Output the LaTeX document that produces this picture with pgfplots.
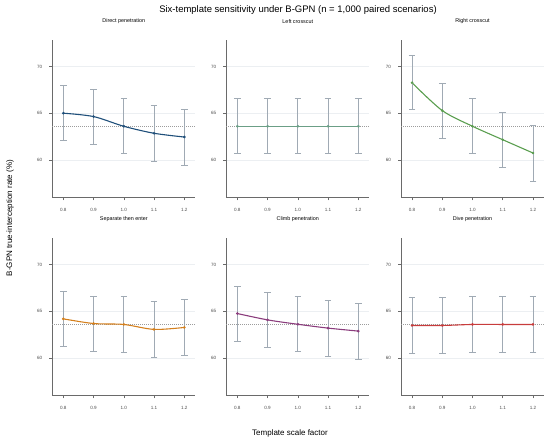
\documentclass[border=0pt]{standalone}
\usepackage{pgfplots}
\pgfplotsset{compat=1.18}
\usepackage{fontspec}
\setmainfont{Liberation Sans}
\definecolor{cdirect}{HTML}{1F4F7A}
\definecolor{cleft}{HTML}{6B9F86}
\definecolor{cright}{HTML}{5A9E4F}
\definecolor{csep}{HTML}{D4801E}
\definecolor{cclimb}{HTML}{8B3D7D}
\definecolor{cdive}{HTML}{C83C3C}
\definecolor{ebar}{HTML}{A0AAB4}
\definecolor{spine}{HTML}{6A6A6A}
\definecolor{gridc}{HTML}{ECEFF2}
\definecolor{refc}{HTML}{9C9C9C}
\pgfplotsset{
  panel/.style={
    scale only axis, width=143pt, height=157pt,
    xmin=0.7636, xmax=1.2364, ymin=56, ymax=72.8,
    axis x line*=bottom, axis y line*=left,
    axis line style={spine, line width=0.8pt},
    xtick={0.8,0.9,1.0,1.1,1.2}, ytick={60,65,70},
    xticklabels={0.8,0.9,1.0,1.1,1.2},
    tick align=outside, major tick length=3pt,
    tick style={spine, line width=0.6pt},
    ymajorgrids, grid style={gridc, line width=0.5pt},
    /pgf/number format/assume math mode=true,
    ticklabel style={font=\fontsize{4.6}{5}\selectfont, text=black!70},
    yticklabel style={xshift=-3.5pt},
    xticklabel style={yshift=-4pt, text depth=0pt, text height=3.4pt},
    title style={font=\fontsize{5.4}{6}\selectfont, at={(0.5,1)}, anchor=center, yshift=13pt},
    clip=false,
  },
  ser/.style={color=#1, line width=1.1pt, smooth, mark=*, mark size=0.7pt},
  eb/.style={draw=none, mark=none, forget plot,
    error bars/.cd, y dir=both, y explicit,
    error bar style={draw=ebar, line width=0.85pt},
    error mark options={rotate=90, mark size=3.3pt, draw=ebar, line width=0.85pt}},
  refl/.style={refc, dash pattern=on 0.6pt off 1.4pt, line width=0.65pt, forget plot},
}
\begin{document}
\begin{tikzpicture}
\path[use as bounding box] (0,0) rectangle (550pt,442pt);
% Direct penetration
\begin{axis}[panel, at={(52.3pt,244.7pt)}, anchor=south west, title={Direct penetration}]
\addplot[refl] coordinates {(0.7636,63.6) (1.2364,63.6)};
\addplot[ser=cdirect] coordinates {(0.8,65.00) (0.9,64.64) (1.0,63.60) (1.1,62.85) (1.2,62.45)};
\addplot[eb] coordinates {(0.8,65.00) +- (0,2.95) (0.9,64.64) +- (0,2.93) (1.0,63.60) +- (0,2.95) (1.1,62.85) +- (0,2.98) (1.2,62.45) +- (0,3.0)};
\end{axis}
% Left crosscut
\begin{axis}[panel, at={(226.3pt,244.7pt)}, anchor=south west, title={Left crosscut}]
\addplot[refl] coordinates {(0.7636,63.6) (1.2364,63.6)};
\addplot[ser=cleft] coordinates {(0.8,63.60) (0.9,63.60) (1.0,63.60) (1.1,63.60) (1.2,63.60)};
\addplot[eb] coordinates {(0.8,63.60) +- (0,2.95) (0.9,63.60) +- (0,2.95) (1.0,63.60) +- (0,2.95) (1.1,63.60) +- (0,2.95) (1.2,63.60) +- (0,2.95)};
\end{axis}
% Right crosscut
\begin{axis}[panel, at={(401pt,244.7pt)}, anchor=south west, title={Right crosscut}]
\addplot[refl] coordinates {(0.7636,63.6) (1.2364,63.6)};
\addplot[ser=cright] coordinates {(0.8,68.26) (0.9,65.28) (1.0,63.60) (1.1,62.16) (1.2,60.74)};
\addplot[eb] coordinates {(0.8,68.26) +- (0,2.9) (0.9,65.28) +- (0,2.95) (1.0,63.60) +- (0,2.95) (1.1,62.16) +- (0,2.97) (1.2,60.74) +- (0,3.0)};
\end{axis}
% Separate then enter
\begin{axis}[panel, at={(52.3pt,46.7pt)}, anchor=south west, title={Separate then enter}]
\addplot[refl] coordinates {(0.7636,63.6) (1.2364,63.6)};
\addplot[ser=csep] coordinates {(0.8,64.18) (0.9,63.68) (1.0,63.58) (1.1,63.05) (1.2,63.26)};
\addplot[eb] coordinates {(0.8,64.18) +- (0,2.95) (0.9,63.68) +- (0,2.95) (1.0,63.58) +- (0,2.95) (1.1,63.05) +- (0,2.97) (1.2,63.26) +- (0,2.97)};
\end{axis}
% Climb penetration
\begin{axis}[panel, at={(226.3pt,46.7pt)}, anchor=south west, title={Climb penetration}]
\addplot[refl] coordinates {(0.7636,63.6) (1.2364,63.6)};
\addplot[ser=cclimb] coordinates {(0.8,64.75) (0.9,64.07) (1.0,63.60) (1.1,63.19) (1.2,62.87)};
\addplot[eb] coordinates {(0.8,64.75) +- (0,2.95) (0.9,64.07) +- (0,2.97) (1.0,63.60) +- (0,2.95) (1.1,63.19) +- (0,2.98) (1.2,62.87) +- (0,2.98)};
\end{axis}
% Dive penetration
\begin{axis}[panel, at={(401pt,46.7pt)}, anchor=south west, title={Dive penetration}]
\addplot[refl] coordinates {(0.7636,63.6) (1.2364,63.6)};
\addplot[ser=cdive] coordinates {(0.8,63.47) (0.9,63.47) (1.0,63.58) (1.1,63.58) (1.2,63.58)};
\addplot[eb] coordinates {(0.8,63.47) +- (0,2.95) (0.9,63.47) +- (0,2.95) (1.0,63.58) +- (0,2.95) (1.1,63.58) +- (0,2.95) (1.2,63.58) +- (0,2.95)};
\end{axis}
\node[font=\fontsize{9.5}{11}\selectfont] at (298pt,432pt) {Six-template sensitivity under B-GPN (n = 1,000 paired scenarios)};
\node[font=\fontsize{8}{9}\selectfont] at (290pt,9pt) {Template scale factor};
\node[font=\fontsize{8}{9}\selectfont, rotate=90] at (10pt,224pt) {B-GPN true-interception rate (\%)};
\end{tikzpicture}
\end{document}
